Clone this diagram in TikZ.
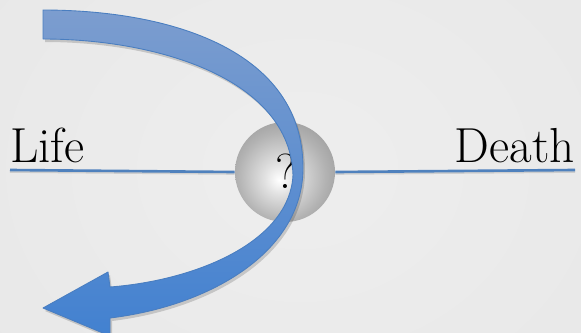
\documentclass[tikz,border=0pt]{standalone}
\usepackage{xcolor}
\usepackage{tikz}
\usetikzlibrary{positioning}
\definecolor{lifeBlue}{HTML}{4F81BD}
\definecolor{arrowTop}{HTML}{7C9DCF}
\definecolor{arrowBot}{HTML}{4281D0}
\definecolor{arrowLine}{HTML}{4A7EC0}
\definecolor{bgLight}{HTML}{EEEEEE}
\definecolor{bgDark}{HTML}{E3E3E3}
\pgfdeclareradialshading{bgshade}{\pgfpoint{0bp}{0bp}}{%
  color(0bp)=(bgLight); color(25bp)=(bgDark!50!bgLight); color(50bp)=(bgDark)}
\pgfdeclareradialshading{sphereshade}{\pgfpoint{-3bp}{-4bp}}{%
  color(0bp)=(white); color(8bp)=(black!12); color(22bp)=(black!30);
  color(38bp)=(black!46); color(50bp)=(black!60)}
\tikzset{
  label/.style={
    font=\fontsize{28}{32}\selectfont,
    inner sep=0pt,
    text=black
  },
  axis/.style={draw=lifeBlue, line width=1.5pt},
  axisshadow/.style={draw=black, opacity=0.12, line width=1.5pt},
  sphere/.style={
    circle,
    minimum size=2cm,
    inner sep=0pt,
    shading=sphereshade
  },
  bandfill/.style={
    top color=arrowTop,
    bottom color=arrowBot,
    draw=arrowLine,
    line width=0.5pt,
    line join=round
  },
  bandshadow/.style={fill=black, opacity=0.16}
}
\def\lifepath{%
  (43,10) .. controls (170,10) and (303,50) .. (303,168)
  .. controls (303,252) and (210,306) .. (110,318)
  -- (110,336) -- (43,308) -- (108,272) -- (110,287)
  .. controls (200,280) and (290,240) .. (293,175)
  .. controls (290,80) and (160,39) .. (43,39)
  -- cycle}

\begin{document}
\begin{tikzpicture}[x=0.02cm, y=-0.02cm]
  \useasboundingbox (0,0) rectangle (581,332);
  \clip (0,0) rectangle (581,332);
  \fill[shading=bgshade] (-60,-120) rectangle (660,460);

  \coordinate (lineL) at (10,170);
  \coordinate (lineR) at (575,170);
  \node[sphere] (ball) at (285,172) {};
  \node[label, anchor=base west] (life) at (10,162) {Life};
  \node[label, anchor=base east] (death) at (575,162) {Death};
  \node[label] (qmark) at (286,171) {?};

  \draw[axisshadow] ([shift={(0,1.5)}]lineL) -- ([shift={(0,1.5)}]ball.west);
  \draw[axisshadow] ([shift={(0,1.5)}]ball.east) -- ([shift={(0,1.5)}]lineR);
  \draw[axis] (lineL) -- (ball.west);
  \draw[axis] (ball.east) -- (lineR);

  \begin{scope}[shift={(2,3)}]
    \fill[bandshadow] \lifepath;
  \end{scope}
  \path[bandfill] \lifepath;
\end{tikzpicture}
\end{document}
